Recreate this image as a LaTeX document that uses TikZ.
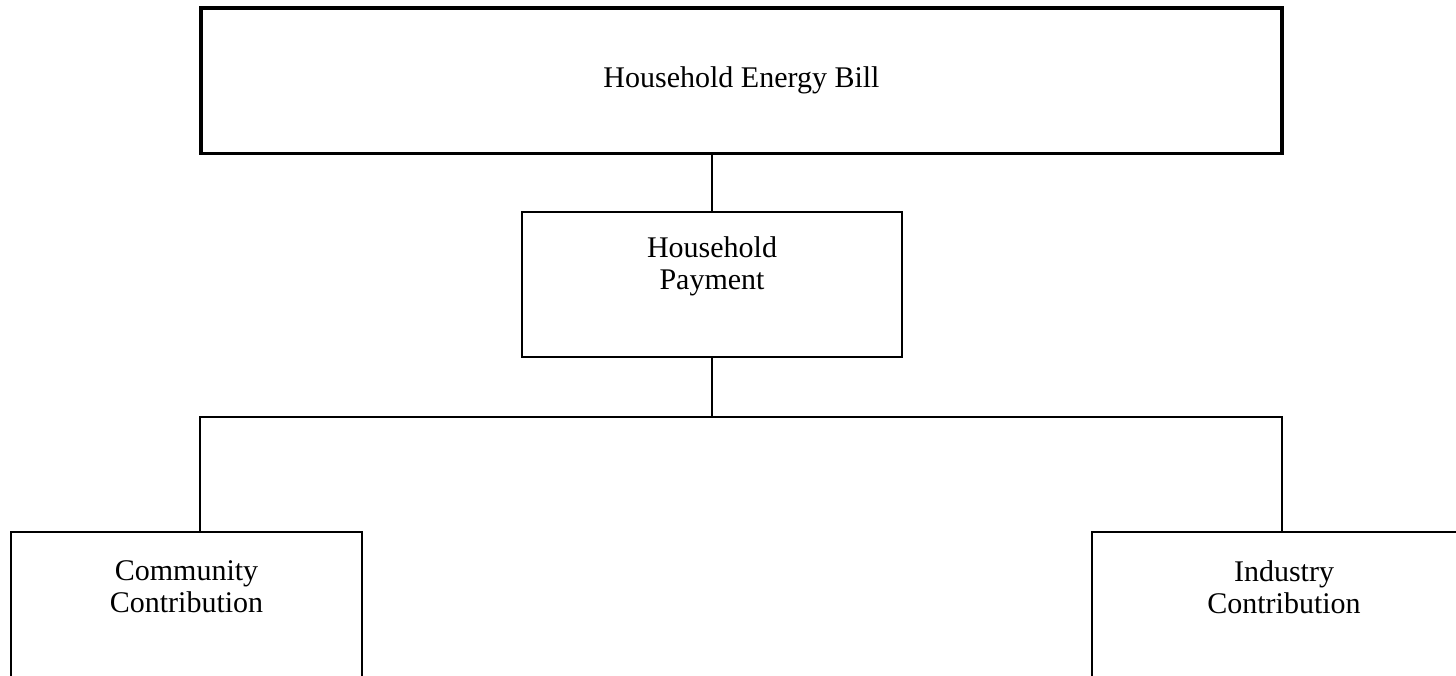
\documentclass[tikz,border=0pt]{standalone}
\usepackage{fontspec}
\setmainfont{Liberation Serif}
\usetikzlibrary{positioning}

\tikzset{
	box/.style={draw, line width=0.9pt, inner sep=0pt},
	boxtext/.style={anchor=north, inner sep=0pt, align=center, font=\fontsize{15}{16}\selectfont},
}

\begin{document}
\begin{tikzpicture}[x=0.5pt, y=-0.5pt, line width=0.9pt]
	\useasboundingbox (0,0) rectangle (1456,675);
	\clip (0,0) rectangle (1456,675);

	\node (bill) [box, line width=1.6pt, minimum width=540.5pt, minimum height=72.75pt, font=\fontsize{15}{16}\selectfont] at (741.5,80.75) {Household Energy Bill};

	\node (pay) [box, minimum width=190pt, minimum height=72.5pt, label={[boxtext, yshift=-12.25pt]north:{Household\\Payment}}] at (712,284.5) {};

	\node (comm) [box, minimum width=175.5pt, minimum height=84pt, label={[boxtext, yshift=-14.25pt]north:{Community\\Contribution}}] at (186.5,616) {};
	\node (ind) [box, minimum width=192pt, minimum height=84pt, label={[boxtext, yshift=-14.25pt]north:{Industry\\Contribution}}] at (1284,616) {};

	\coordinate (jl) at (200,417);
	\coordinate (jr) at (1282,417);

	\draw (bill.south -| pay.north) -- (pay.north);
	\draw (pay.south) -- (pay.south |- jl);
	\draw (jl |- comm.north) -- (jl) -- (jr) -- (jr |- ind.north);
\end{tikzpicture}
\end{document}
